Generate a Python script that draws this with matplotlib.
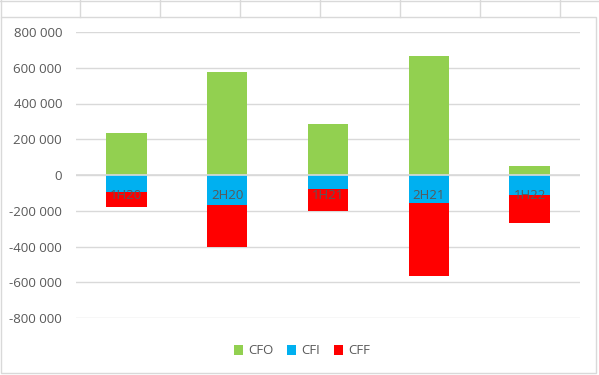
import matplotlib
matplotlib.use("Agg")
import matplotlib.pyplot as plt
from matplotlib.ticker import FuncFormatter, MultipleLocator
from matplotlib.lines import Line2D
from matplotlib.patches import Rectangle
import numpy as np

categories = ["1H20", "2H20", "1H21", "2H21", "1H22"]
cfo = [236000, 577000, 286000, 666000, 52000]
cfi = [-97000, -166000, -76000, -155000, -110000]
cff = [-84000, -238000, -127000, -411000, -160000]

colors = {"CFO": "#92d050", "CFI": "#00b0f0", "CFF": "#ff0000"}
text_color = "#595959"
grid_color = "#d9d9d9"

plt.rcParams["font.family"] = ["Open Sans", "DejaVu Sans"]

W, H = 599, 375
fig = plt.figure(figsize=(W / 100, H / 100), dpi=100)

def fx(px):
    return px / W

def fy(py):
    return 1 - py / H

for xv in [1, 80, 160, 240, 320, 400, 480, 560]:
    fig.add_artist(Line2D([fx(xv), fx(xv)], [fy(0), fy(17)], color=grid_color, lw=1))
fig.add_artist(Line2D([0, 1], [fy(1), fy(1)], color=grid_color, lw=1))
fig.add_artist(Rectangle((fx(0.5), fy(373)), fx(596) - fx(0.5), fy(17) - fy(373),
                         fill=False, edgecolor=grid_color, lw=1))

ax = fig.add_axes([fx(76), fy(318), fx(580) - fx(76), fy(32) - fy(318)])
x = np.arange(len(categories))
w = 0.4
cfo_a = np.array(cfo)
cfi_a = np.array(cfi)
cff_a = np.array(cff)
ax.bar(x, cfo_a, w, color=colors["CFO"], zorder=2, label="CFO")
ax.bar(x, cfi_a, w, color=colors["CFI"], zorder=2, label="CFI")
ax.bar(x, cff_a, w, bottom=cfi_a, color=colors["CFF"], zorder=2, label="CFF")

ax.set_xlim(-0.5, len(categories) - 0.5)
ax.set_ylim(-800000, 800000)
ax.yaxis.set_major_locator(MultipleLocator(200000))

def fmt(v, pos):
    s = f"{abs(int(round(v))):,}".replace(",", " ")
    return ("-" if v < 0 else "") + s

ax.yaxis.set_major_formatter(FuncFormatter(fmt))
ax.grid(axis="y", color=grid_color, lw=1, zorder=0)
ax.axhline(0, color=grid_color, lw=1.2, zorder=3)
for s in ax.spines.values():
    s.set_visible(False)
ax.tick_params(axis="y", length=0, pad=10, labelsize=9.5, labelcolor=text_color)
ax.set_xticks([])

for xi, c in zip(x, categories):
    ax.annotate(c, (xi, 0), xytext=(0, -20.5), textcoords="offset pixels",
                ha="center", va="center", fontsize=9.5, color=text_color, zorder=4)

handles, labels = ax.get_legend_handles_labels()
fig.legend(handles, labels, loc="center", bbox_to_anchor=(fx(302), fy(351)), ncol=3,
           frameon=False, fontsize=9.5, labelcolor=text_color, handlelength=0.7,
           handleheight=0.7, handletextpad=0.4, columnspacing=1.0)

fig.savefig("out.png", dpi=100, facecolor="white")
